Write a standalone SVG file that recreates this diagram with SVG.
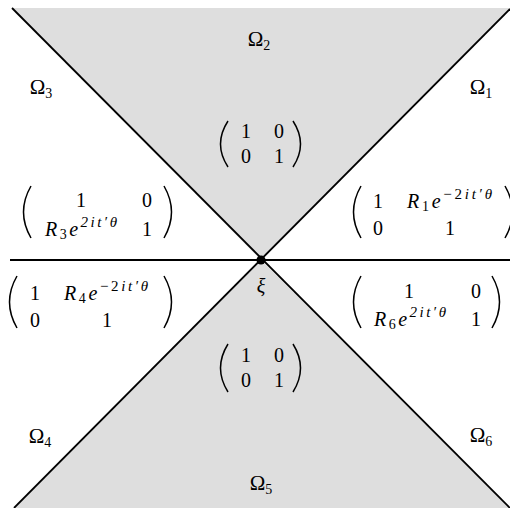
<svg xmlns="http://www.w3.org/2000/svg" width="510" height="508" viewBox="0 0 510 508">
<style>
text{font-family:"Liberation Serif","DejaVu Serif",serif;fill:#000}
.m{text-anchor:middle}
.it{font-style:italic}
.paren{fill:none;stroke:#000;stroke-width:1.5}
.ln{stroke:#000;stroke-width:1.8;fill:none}
</style>
<rect width="510" height="508" fill="#fff"/>
<g id="regions">
<polygon points="12,8 510,8 510,9 261,260" fill="#dedede"/>
<polygon points="261,260 14,508 510,508" fill="#dedede"/>
</g>
<g id="connectors">
<line class="ln" x1="12" y1="8" x2="510" y2="508"/>
<line class="ln" x1="510" y1="9" x2="14" y2="508"/>
<line class="ln" x1="10" y1="260" x2="510" y2="260"/>
</g>
<g id="xi">
<circle cx="261" cy="260" r="4.5" fill="#000"/>
<text class="m it" x="261" y="293" font-size="20">ξ</text>
</g>
<g id="labels" font-size="21">
<text class="m" x="259" y="46">Ω<tspan font-size="14" dy="4">2</tspan></text>
<text class="m" x="41" y="94">Ω<tspan font-size="14" dy="4">3</tspan></text>
<text class="m" x="481" y="94">Ω<tspan font-size="14" dy="4">1</tspan></text>
<text class="m" x="40" y="443">Ω<tspan font-size="14" dy="4">4</tspan></text>
<text class="m" x="481" y="442">Ω<tspan font-size="14" dy="4">6</tspan></text>
<text class="m" x="261" y="490">Ω<tspan font-size="14" dy="4">5</tspan></text>
</g>
<g id="matrix-top" font-size="20">
<path class="paren" d="M228,121 Q213,144 228,167"/>
<path class="paren" d="M293,121 Q308,144 293,167"/>
<text class="m" x="246" y="138">1</text><text class="m" x="279" y="138">0</text>
<text class="m" x="246" y="163">0</text><text class="m" x="279" y="163">1</text>
</g>
<g id="matrix-bottom" font-size="20">
<path class="paren" d="M228,344 Q213,368 228,392"/>
<path class="paren" d="M293,344 Q308,368 293,392"/>
<text class="m" x="246" y="362">1</text><text class="m" x="279" y="362">0</text>
<text class="m" x="246" y="387">0</text><text class="m" x="279" y="387">1</text>
</g>
<g id="matrix-left-top" font-size="20">
<path class="paren" d="M31,186 Q16,212 31,238"/>
<path class="paren" d="M164,186 Q179,212 164,238"/>
<text class="m" x="81" y="207">1</text><text class="m" x="147" y="207">0</text>
<text x="45" y="236" textLength="72" lengthAdjust="spacing"><tspan class="it">R</tspan><tspan font-size="14" dy="3">3</tspan><tspan class="it" dy="-3">e</tspan><tspan class="it" font-size="15" dy="-9">2it′θ</tspan></text>
<text class="m" x="147" y="236">1</text>
</g>
<g id="matrix-right-top" font-size="20">
<path class="paren" d="M361,186 Q346,212 361,238"/>
<path class="paren" d="M505,186 Q520,212 505,238"/>
<text class="m" x="378" y="208">1</text>
<text x="407" y="208" textLength="85" lengthAdjust="spacing"><tspan class="it">R</tspan><tspan font-size="14" dy="3">1</tspan><tspan class="it" dy="-3">e</tspan><tspan font-size="15" dy="-9">−2</tspan><tspan class="it" font-size="15">it′θ</tspan></text>
<text class="m" x="378" y="235">0</text><text class="m" x="450" y="235">1</text>
</g>
<g id="matrix-left-bottom" font-size="20">
<path class="paren" d="M17,276 Q2,302 17,328"/>
<path class="paren" d="M164,276 Q179,302 164,328"/>
<text class="m" x="35" y="300">1</text>
<text x="64" y="300" textLength="84" lengthAdjust="spacing"><tspan class="it">R</tspan><tspan font-size="14" dy="3">4</tspan><tspan class="it" dy="-3">e</tspan><tspan font-size="15" dy="-9">−2</tspan><tspan class="it" font-size="15">it′θ</tspan></text>
<text class="m" x="35" y="327">0</text><text class="m" x="107" y="327">1</text>
</g>
<g id="matrix-right-bottom" font-size="20">
<path class="paren" d="M361,276 Q346,302 361,328"/>
<path class="paren" d="M492,276 Q507,302 492,328"/>
<text class="m" x="409" y="298">1</text><text class="m" x="476" y="298">0</text>
<text x="374" y="326" textLength="72" lengthAdjust="spacing"><tspan class="it">R</tspan><tspan font-size="14" dy="3">6</tspan><tspan class="it" dy="-3">e</tspan><tspan class="it" font-size="15" dy="-9">2it′θ</tspan></text>
<text class="m" x="476" y="326">1</text>
</g>
</svg>
